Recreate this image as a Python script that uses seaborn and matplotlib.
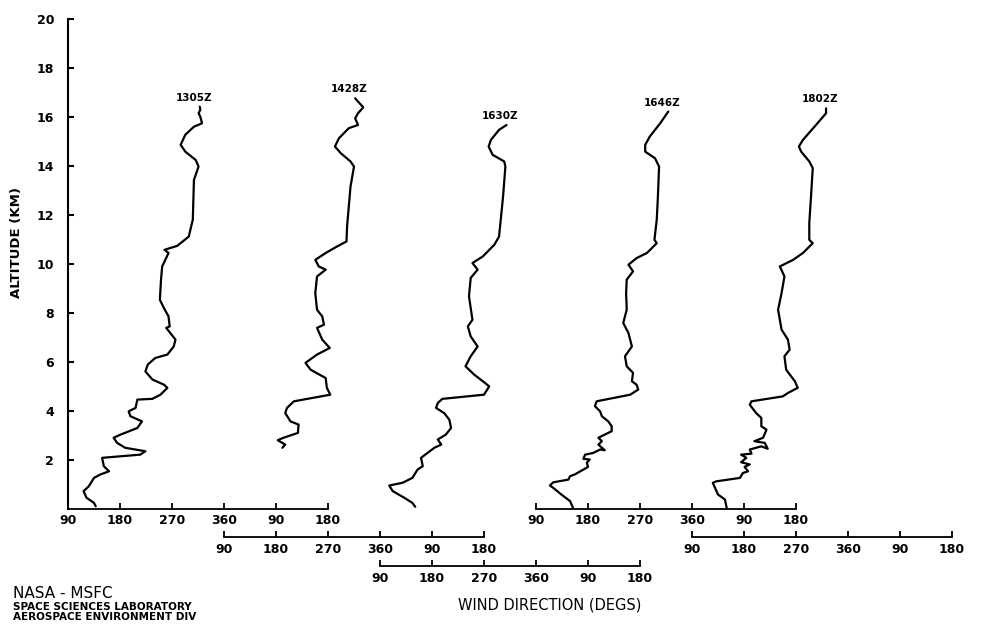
#!/usr/bin/env python3
"""Wind direction profiles, staggered by launch time."""

import matplotlib
matplotlib.use('Agg')
import matplotlib.pyplot as plt
import pandas as pd
import seaborn as sns

# ---- data (altitude km, wind direction deg on each profile's own axis) ----
times = ['1305Z', '1428Z', '1630Z', '1646Z', '1802Z']

alt_1305 = [0.09, 0.23, 0.44, 0.71, 0.91, 1.25, 1.39, 1.52, 1.73, 2.07, 2.20, 2.34,
            2.48, 2.68, 2.89, 3.02, 3.29, 3.56, 3.77, 3.97, 4.11, 4.45, 4.48, 4.65,
            4.93, 5.06, 5.27, 5.60, 5.88, 6.15, 6.29, 6.62, 6.90, 7.17, 7.38, 7.44,
            7.85, 8.19, 8.53, 9.35, 9.89, 10.44, 10.57, 10.73, 11.11, 11.80, 13.43,
            13.97, 14.24, 14.58, 14.86, 15.27, 15.60, 15.74, 16.01, 16.15, 16.29, 16.42]
dir_1305 = [138, 135, 122, 117, 126, 135, 146, 161, 152, 149, 215, 224,
            189, 175, 169, 181, 210, 218, 198, 195, 207, 210, 236, 250,
            262, 256, 236, 224, 228, 241, 262, 273, 276, 267, 260, 266,
            264, 256, 249, 251, 253, 264, 257, 279, 299, 306, 308,
            316, 311, 293, 285, 293, 308, 322, 319, 316, 319, 318]

alt_1428 = [2.48, 2.61, 2.79, 2.89, 3.09, 3.43, 3.56, 3.90, 4.11, 4.38, 4.65, 4.93,
            5.33, 5.67, 5.95, 6.29, 6.56, 6.90, 7.38, 7.51, 7.85, 8.12, 8.80, 9.48,
            9.76, 9.89, 10.16, 10.44, 10.71, 10.91, 11.52, 12.34, 13.16, 13.97, 14.18,
            14.52, 14.79, 15.13, 15.54, 15.67, 15.94, 16.15, 16.39, 16.76]
dir_1428 = [191, 196, 183, 193, 218, 219, 205, 196, 199, 211, 274, 268,
            266, 240, 231, 251, 273, 260, 251, 263, 260, 251, 248, 251,
            266, 254, 248, 266, 286, 302, 303, 306, 309, 315, 309,
            292, 282, 289, 306, 322, 317, 322, 331, 317]

alt_1630 = [0.07, 0.23, 0.44, 0.71, 0.94, 1.05, 1.25, 1.59, 1.73, 2.07, 2.48, 2.61,
            2.82, 3.02, 3.29, 3.63, 3.90, 4.11, 4.31, 4.48, 4.65, 4.99, 5.20, 5.47,
            5.81, 6.22, 6.62, 7.03, 7.44, 7.71, 8.67, 9.42, 9.76, 10.03, 10.30, 10.78,
            11.11, 11.80, 12.75, 13.97, 14.18, 14.45, 14.79, 15.06, 15.47, 15.67]
dir_1630 = [151, 146, 132, 112, 106, 129, 146, 155, 164, 161, 184, 196,
            190, 204, 213, 210, 201, 187, 190, 198, 270, 279, 268, 253,
            238, 247, 259, 247, 242, 250, 244, 247, 259, 250, 268, 288,
            296, 299, 303, 307, 305, 285, 278, 282, 296, 309]

alt_1646 = [0.03, 0.30, 0.57, 0.84, 0.94, 1.07, 1.18, 1.32, 1.39, 1.59, 1.70, 1.87,
            2.00, 2.03, 2.20, 2.27, 2.41, 2.38, 2.61, 2.75, 2.89, 3.02, 3.16, 3.36,
            3.56, 3.77, 3.97, 4.18, 4.38, 4.65, 4.86, 5.06, 5.20, 5.54, 5.81,
            6.22, 6.62, 7.17, 7.58, 8.12, 8.80, 9.35, 9.69, 9.96, 10.23, 10.44, 10.84,
            10.98, 11.80, 12.75, 13.97, 14.31, 14.58, 14.86, 15.20, 15.74, 16.22]
dir_1646 = [154, 149, 134, 120, 114, 120, 146, 149, 157, 172, 180, 178,
            183, 172, 175, 189, 201, 209, 198, 204, 198, 209, 221, 221,
            215, 204, 201, 192, 195, 253, 267, 264, 256, 258, 247,
            244, 256, 250, 241, 247, 246, 247, 258, 250, 264, 282, 299,
            295, 299, 301, 303, 296, 279, 279, 287, 305, 319]

alt_1802 = [0.03, 0.37, 0.57, 1.05, 1.11, 1.25, 1.45, 1.52, 1.70, 1.80, 1.89, 2.07,
            2.20, 2.24, 2.41, 2.54, 2.44, 2.68, 2.75, 2.89, 3.22, 3.36, 3.70, 3.90,
            4.24, 4.38, 4.58, 4.72, 4.93, 5.20,
            5.67, 6.22, 6.49, 6.90, 7.31, 8.12, 8.80, 9.48, 9.89, 10.16, 10.44, 10.84,
            10.98, 11.66, 12.75, 13.91, 14.18, 14.58, 14.79, 15.06, 15.60, 16.15, 16.35]
dir_1802 = [150, 147, 135, 126, 132, 173, 178, 187, 181, 190, 175, 184,
            175, 193, 190, 210, 221, 216, 198, 213, 219, 210, 210, 201,
            190, 193, 247, 256, 273, 268,
            253, 250, 259, 256, 245, 239, 245, 250, 242, 265, 282, 299,
            293, 293, 296, 299, 293, 279, 275, 282, 302, 322, 322]

alts = [alt_1305, alt_1428, alt_1630, alt_1646, alt_1802]
dirs = [dir_1305, dir_1428, dir_1630, dir_1646, dir_1802]

axis_ticks = [90, 180, 270, 360, 450, 540]
axis_labels = ['90', '180', '270', '360', '90', '180']
alt_ticks = [2, 4, 6, 8, 10, 12, 14, 16, 18, 20]

# ---- layout (pixels) ----
W, H = 981, 624
X0, X1 = 68, 952          # pixel span of the combined direction scale
XMIN, XMAX = 90, 1620      # combined degrees: each profile shifted by 270
SHIFT = 270
rows = [508.5, 537, 566, 508.5, 537]

def fx(px):
    return px / W

def fy(py):
    return 1 - py / H

sns.set_style('white')
plt.rcParams['font.family'] = ['DejaVu Sans']
plt.rcParams['text.color'] = 'black'
plt.rcParams['xtick.color'] = 'black'
plt.rcParams['ytick.color'] = 'black'
plt.rcParams['axes.labelcolor'] = 'black'

fig = plt.figure(figsize=(W / 100, H / 100), dpi=100)
ax = fig.add_axes([fx(X0), fy(508.5), fx(X1) - fx(X0), fy(19) - fy(508.5)])
ax.patch.set_alpha(0)

frames = []
for i, t in enumerate(times):
    frames.append(pd.DataFrame({'time': t, 'alt': alts[i],
                                'dir': [d + SHIFT * i for d in dirs[i]]}))
df = pd.concat(frames, ignore_index=True)

sns.lineplot(data=df, x='dir', y='alt', units='time', estimator=None,
             sort=False, color='black', linewidth=1.6, legend=False, ax=ax)

for i, t in enumerate(times):
    ax.annotate(t, (dirs[i][-1] + SHIFT * i, alts[i][-1]),
                xytext=(-6, 4), textcoords='offset pixels',
                ha='center', va='bottom', fontsize=7.5, fontweight='bold')

ax.set_xlim(XMIN, XMAX)
ax.set_ylim(0, 20)
for s in ['top', 'right', 'bottom']:
    ax.spines[s].set_visible(False)
ax.spines['left'].set_linewidth(1.5)
ax.spines['left'].set_color('black')
ax.set_yticks(alt_ticks)
ax.set_yticklabels([str(v) for v in alt_ticks], fontsize=9, fontweight='bold')
ax.tick_params(axis='y', direction='in', length=4, width=1.5, pad=10, left=True)
ax.tick_params(axis='x', bottom=False, labelbottom=False)
ax.set_xlabel('')
ax.set_ylabel('')

# one direction axis per profile, staggered
scale = (X1 - X0) / (XMAX - XMIN)
for i in range(len(times)):
    left = X0 + SHIFT * i * scale
    width = (axis_ticks[-1] - axis_ticks[0]) * scale
    sub = fig.add_axes([fx(left), fy(rows[i]), fx(width), 0.0005])
    sub.patch.set_alpha(0)
    sub.set_xlim(axis_ticks[0], axis_ticks[-1])
    for s in ['top', 'right', 'left']:
        sub.spines[s].set_visible(False)
    sub.spines['bottom'].set_linewidth(1.3)
    sub.spines['bottom'].set_color('black')
    sub.set_yticks([])
    sub.set_xticks(axis_ticks)
    sub.set_xticklabels(axis_labels, fontsize=9, fontweight='bold')
    sub.tick_params(axis='x', direction='in', length=4, width=1.3, pad=4,
                    bottom=True)

fig.text(fx(16.5), fy(242), 'ALTITUDE (KM)', rotation=90, ha='center',
         va='center', fontsize=9.5, fontweight='bold')
fig.text(fx(550), fy(605), 'WIND DIRECTION (DEGS)', ha='center', va='center',
         fontsize=10.5)
fig.text(fx(13), fy(593), 'NASA - MSFC', ha='left', va='center', fontsize=11)
fig.text(fx(13), fy(607), 'SPACE SCIENCES LABORATORY', ha='left', va='center',
         fontsize=7.5, fontweight='bold')
fig.text(fx(13), fy(617), 'AEROSPACE ENVIRONMENT DIV', ha='left', va='center',
         fontsize=7.5, fontweight='bold')

fig.savefig('out.png', dpi=100)
